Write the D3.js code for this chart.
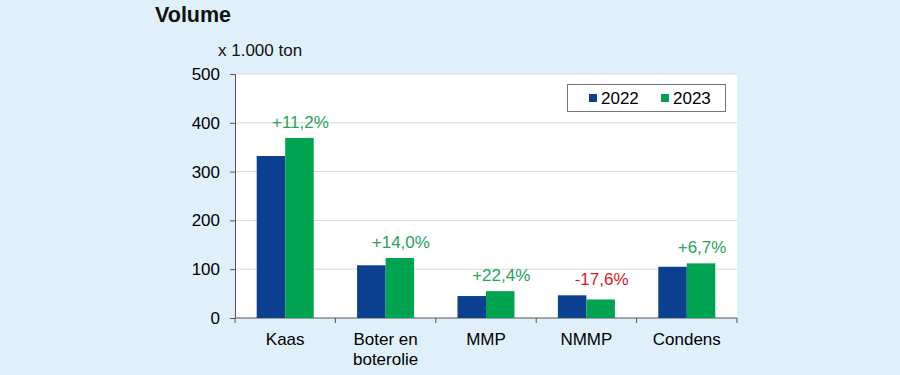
<!DOCTYPE html>
<html><head><meta charset="utf-8">
<script src="https://cdn.jsdelivr.net/npm/d3@7"></script>
<style>
html,body{margin:0;padding:0;background:#dff0fa;}
svg{display:block;font-family:"Liberation Sans",Arial,sans-serif;}
</style></head>
<body>
<svg id="c" width="900" height="375"></svg>
<script>
const categories = [["Kaas"], ["Boter en","boterolie"], ["MMP"], ["NMMP"], ["Condens"]];
const catKeys = ["Kaas","Boter en boterolie","MMP","NMMP","Condens"];
const series = ["2022","2023"];
const values2022 = [332, 108, 45, 46.5, 105];
const values2023 = [369, 123, 55, 38, 112];
const changeLabels = ["+11,2%","+14,0%","+22,4%","-17,6%","+6,7%"];
const yTicks = [0,100,200,300,400,500];
const colors = {"2022":"#0b3f8f","2023":"#00a34f"};

const svg = d3.select("#c");
const m = {l:235, r:737, t:74, b:318};
const x = d3.scaleBand().domain(catKeys).range([m.l, m.r]).paddingInner(0).paddingOuter(0);
const y = d3.scaleLinear().domain([0,500]).range([m.b, m.t]);
const barW = 28.5;
const FS = 17;

svg.append("rect").attr("x",m.l).attr("y",m.t).attr("width",m.r-m.l).attr("height",m.b-m.t).attr("fill","#fff");

// grid
svg.append("g").selectAll("line").data(yTicks.filter(d=>d>0)).join("line")
  .attr("x1",m.l).attr("x2",m.r).attr("y1",d=>y(d)).attr("y2",d=>y(d))
  .attr("stroke","#d9d9d9").attr("stroke-width",1);

// y axis
const ya = svg.append("g").attr("transform",`translate(${m.l},0)`)
  .call(d3.axisLeft(y).tickValues(yTicks).tickSize(5).tickPadding(10));
ya.select(".domain").attr("stroke","#555");
ya.selectAll(".tick line").attr("stroke","#555");
ya.selectAll("text").attr("font-size",FS).attr("fill","#000").attr("font-family","Liberation Sans, Arial, sans-serif");

// x axis
const xa = svg.append("g").attr("transform",`translate(0,${m.b})`);
xa.append("line").attr("x1",m.l).attr("x2",m.r).attr("stroke","#555");
const bounds = catKeys.map(c=>x(c)).concat([m.r]);
xa.selectAll(".tk").data(bounds).join("line").attr("class","tk")
  .attr("x1",d=>d).attr("x2",d=>d).attr("y1",0).attr("y2",5).attr("stroke","#555");
const xl = xa.selectAll(".lbl").data(catKeys).join("text").attr("class","lbl")
  .attr("x",d=>x(d)+x.bandwidth()/2).attr("y",27).attr("text-anchor","middle")
  .attr("font-size",FS).attr("fill","#000");
xl.each(function(d,i){
  categories[i].forEach((line,j)=>{
    d3.select(this).append("tspan").attr("x",x(d)+x.bandwidth()/2).attr("dy", j===0?0:20).text(line);
  });
});

// bars
const data = catKeys.map((c,i)=>({c, v:[values2022[i], values2023[i]], lab:changeLabels[i]}));
const g = svg.append("g");
data.forEach(d=>{
  const cx = x(d.c)+x.bandwidth()/2;
  series.forEach((s,k)=>{
    g.append("rect").attr("x",cx - barW + k*barW).attr("width",barW)
      .attr("y",y(d.v[k])).attr("height",y(0)-y(d.v[k])).attr("fill",colors[s]);
  });
  const top = Math.min(y(d.v[0]), y(d.v[1]));
  g.append("text").attr("x",cx + barW/2 + 1).attr("y",top-10).attr("text-anchor","middle")
    .attr("font-size",FS).attr("fill", d.lab.startsWith("-") ? "#d7192a" : "#28a35a").text(d.lab);
});

// legend
const lg = svg.append("g");
lg.append("rect").attr("x",567.5).attr("y",84.5).attr("width",158).attr("height",27).attr("fill","#fff").attr("stroke","#777");
series.forEach((s,k)=>{
  const lx = 589 + k*72;
  lg.append("rect").attr("x",lx).attr("y",94).attr("width",8).attr("height",8).attr("fill",colors[s]);
  lg.append("text").attr("x",lx+12).attr("y",104).attr("font-size",FS).attr("fill","#000").text(s);
});

// titles
svg.append("text").attr("x",155).attr("y",22).attr("font-size",21.5).attr("font-weight","bold").attr("fill","#111").text("Volume");
svg.append("text").attr("x",218).attr("y",56).attr("font-size",17).attr("fill","#111").text("x 1.000 ton");
</script>
</body></html>
